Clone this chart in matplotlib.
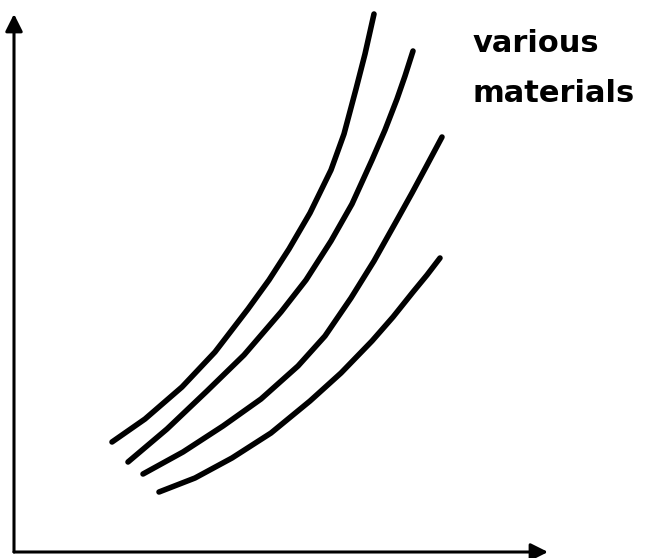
import matplotlib
matplotlib.use("Agg")
import matplotlib.pyplot as plt

# curves (arbitrary units, origin at the axes corner)
c1_x = [98, 131, 168, 201, 234, 255, 275, 296, 317, 330, 342, 351, 360]
c1_y = [110, 133, 165, 200, 243, 272, 303, 339, 382, 418, 463, 498, 538]
c2_x = [114, 153, 193, 230, 267, 292, 317, 338, 358, 371, 383, 391, 399]
c2_y = [90, 123, 161, 197, 240, 272, 311, 348, 392, 422, 453, 476, 501]
c3_x = [129, 169, 209, 247, 284, 311, 337, 360, 383, 398, 412, 420, 428]
c3_y = [78, 100, 126, 153, 186, 216, 254, 291, 332, 359, 385, 400, 415]
c4_x = [145, 181, 218, 257, 296, 327, 358, 379, 399, 413, 426]
c4_y = [60, 74, 94, 119, 151, 179, 211, 235, 260, 277, 294]

label_lines = ["various", "materials"]

W, H = 645, 558
fig = plt.figure(figsize=(W / 100, H / 100), dpi=100)
ax = fig.add_axes([14 / W, (H - 552) / H, (548 - 14) / W, (552 - 14) / H])
ax.set_xlim(0, 534)
ax.set_ylim(0, 538)
ax.axis('off')

for xs, ys in [(c1_x, c1_y), (c2_x, c2_y), (c3_x, c3_y), (c4_x, c4_y)]:
    ax.plot(xs, ys, color='black', lw=4, solid_capstyle='round',
            solid_joinstyle='round', clip_on=False)

# axes drawn as arrows
arrow = dict(arrowstyle='-|>', lw=2.2, color='black', mutation_scale=26,
             shrinkA=0, shrinkB=0)
ax.annotate('', xy=(1, 0), xycoords='axes fraction', xytext=(0, 0),
            textcoords='axes fraction', arrowprops=arrow)
ax.annotate('', xy=(0, 1), xycoords='axes fraction', xytext=(0, 0),
            textcoords='axes fraction', arrowprops=arrow)

fig.text(473 / W, 1 - 52 / H, label_lines[0], fontsize=22, fontweight='bold',
         va='baseline', ha='left')
fig.text(473 / W, 1 - 102 / H, label_lines[1], fontsize=22, fontweight='bold',
         va='baseline', ha='left')

fig.savefig('out.png', dpi=100, facecolor='white')
